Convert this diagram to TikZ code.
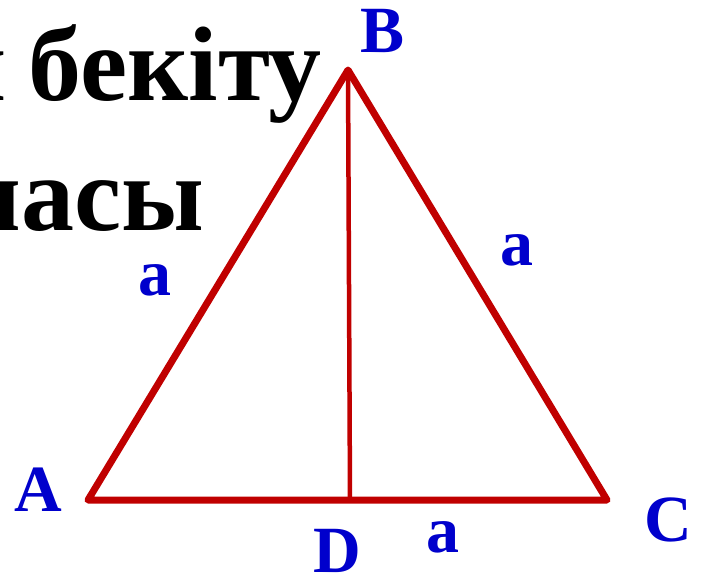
\documentclass[tikz,border=0pt]{standalone}
\usepackage{fontspec}
\setmainfont{Liberation Serif}
\definecolor{tred}{RGB}{192,0,0}
\definecolor{tblue}{RGB}{0,0,204}
\begin{document}
\begin{tikzpicture}[x=1pt,y=-1pt,
  side/.style={draw=tred,line width=7pt,line join=round,line cap=round},
  alt/.style={draw=tred,line width=4.5pt},
  vlabel/.style={text=tblue,font=\fontsize{66}{66}\selectfont\bfseries,inner sep=0pt},
  title/.style={text=black,font=\fontsize{106}{106}\selectfont\bfseries,inner sep=0pt}]
\useasboundingbox (0,0) rectangle (702,576);
\clip (0,0) rectangle (702,576);
\coordinate (A) at (88,500);
\coordinate (B) at (348,70);
\coordinate (C) at (607,500);
\coordinate (D) at (350,500);
\node[title,anchor=base east] (t1) at (322,100) {н\kern-4pt\ бекіту};
\node[title,anchor=base east] (t2) at (204,230) {масы};
\draw[alt] (B) -- (D);
\draw[side] (A) -- (B) -- (C) -- cycle;
\node[vlabel] (lA) at (38,490) {A};
\node[vlabel] (lB) at (383,31) {B};
\node[vlabel] (lC) at (668,520) {C};
\node[vlabel] (lD) at (337,551) {D};
\node[vlabel] (a1) at (155,280) {a};
\node[vlabel] (a2) at (517,250) {a};
\node[vlabel] (a3) at (443,537) {a};
\end{tikzpicture}
\end{document}
